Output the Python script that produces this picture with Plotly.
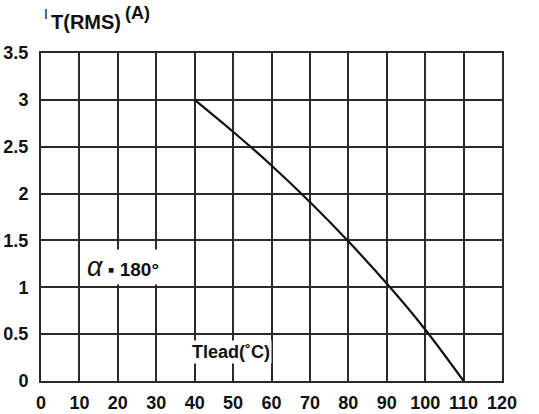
import plotly.graph_objects as go

temps = [40, 50, 60, 70, 80, 90, 100, 110]
current = [3.0, 2.66, 2.30, 1.91, 1.49, 1.04, 0.55, 0.0]
x_ticks = [0, 10, 20, 30, 40, 50, 60, 70, 80, 90, 100, 110, 120]
y_ticks = [0, 0.5, 1, 1.5, 2, 2.5, 3, 3.5]
y_tick_labels = ["0", "0.5", "1", "1.5", "2", "2.5", "3", "3.5"]

W, H = 539, 414
L, R, T, B = 41, 37, 53, 33
pw, ph = W - L - R, H - T - B

def px(xp):
    return (xp - L) / pw

def py(yp):
    return (H - B - yp) / ph

FONT = "Liberation Sans"
grid = "#2a2a2a"

fig = go.Figure()
fig.add_trace(go.Scatter(x=temps, y=current, mode="lines",
                         line=dict(color="#111111", width=2.2, shape="spline", smoothing=1.0),
                         showlegend=False, hoverinfo="skip"))

fig.update_layout(
    width=W, height=H,
    margin=dict(l=L, r=R, t=T, b=B, pad=0, autoexpand=False),
    paper_bgcolor="white", plot_bgcolor="white",
    font=dict(family=FONT, color="#111111"),
    xaxis=dict(range=[0, 120], tickmode="array", tickvals=x_ticks,
               ticktext=[str(v) for v in x_ticks], automargin=False,
               showgrid=True, gridcolor=grid, gridwidth=1.6,
               showline=True, linecolor=grid, linewidth=2, mirror=True,
               ticks="", zeroline=False, ticklabelstandoff=4,
               tickfont=dict(family=FONT, size=18, color="#111111", weight="bold")),
    yaxis=dict(range=[0, 3.5], tickmode="array", tickvals=y_ticks,
               ticktext=y_tick_labels, automargin=False,
               showgrid=True, gridcolor=grid, gridwidth=1.6,
               showline=True, linecolor=grid, linewidth=2, mirror=True,
               ticks="", zeroline=False, ticklabelstandoff=7,
               tickfont=dict(family=FONT, size=18, color="#111111", weight="bold")),
)

ann = []
ann.append(dict(x=px(42), y=py(14), xref="paper", yref="paper", text="I",
                showarrow=False, xanchor="left", yanchor="middle",
                font=dict(family=FONT, size=14, color="#111111")))
ann.append(dict(x=px(49), y=py(22), xref="paper", yref="paper", text="<b>T(RMS)</b>",
                showarrow=False, xanchor="left", yanchor="middle",
                font=dict(family=FONT, size=20, color="#111111")))
ann.append(dict(x=px(123), y=py(13), xref="paper", yref="paper", text="<b>(A)</b>",
                showarrow=False, xanchor="left", yanchor="middle",
                font=dict(family=FONT, size=18, color="#111111")))
ann.append(dict(x=49.5, y=0.31, xref="x", yref="y", text="<b>Tlead(˚C)</b>",
                showarrow=False, bgcolor="white", borderpad=1,
                font=dict(family=FONT, size=18, color="#111111")))
ann.append(dict(x=21.3, y=1.22, xref="x", yref="y",
                text="<i><span style='font-size:27px'>α</span></i> <b>▪ 180°</b>",
                showarrow=False, bgcolor="white", borderpad=2,
                font=dict(family=FONT, size=19, color="#111111")))
fig.update_layout(annotations=ann)

fig.write_html("out.html")
